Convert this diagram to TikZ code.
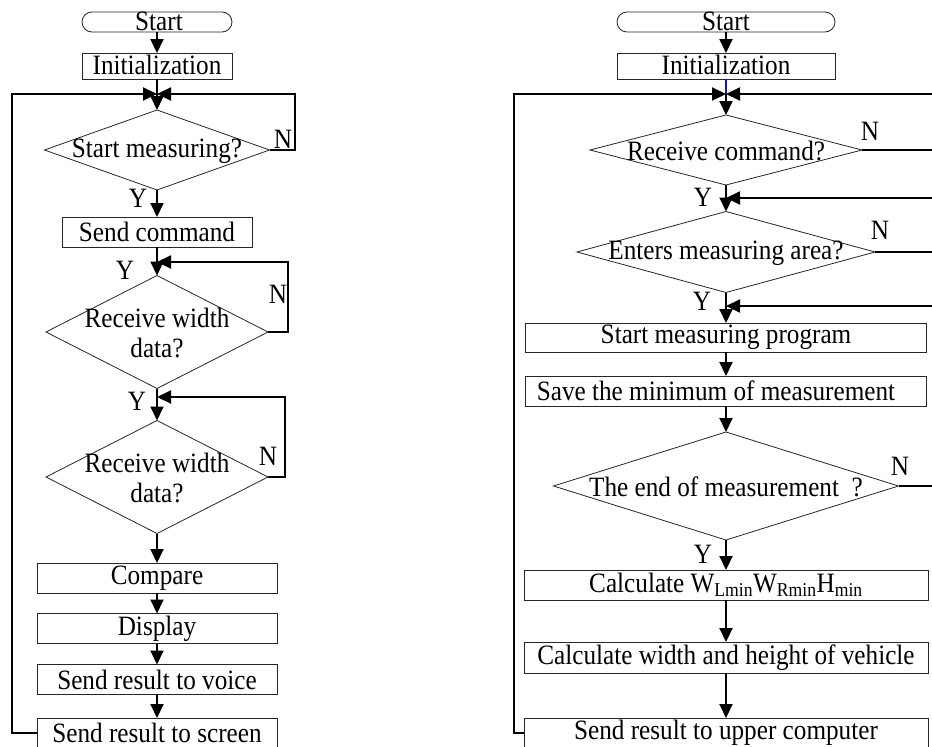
\documentclass[tikz,border=0pt]{standalone}
\usepackage{fontspec}
\setmainfont{Liberation Serif}[FakeStretch=0.9]
\usetikzlibrary{shapes.geometric,arrows.meta}
\definecolor{lineblue}{RGB}{20,20,190}

\begin{document}
\begin{tikzpicture}[x=1pt,y=-1pt,
  every node/.style={font=\fontsize{28}{30}\selectfont,inner sep=0pt,outer sep=0pt},
  box/.style={draw=black!85,line width=0.8pt,rectangle,minimum height=30pt},
  term/.style={draw=black!85,line width=0.8pt,rectangle,rounded corners=10pt,minimum height=20pt},
  dia/.style={draw=black!85,line width=0.8pt,diamond},
  line/.style={line width=2pt},
  flow/.style={line width=2pt,-{Triangle[length=14pt,width=13pt]}}]
\useasboundingbox (0,0) rectangle (932,747);

% left chart
\node[term,minimum width=150pt] (ls) at (157,22) {};
\node (lst) at (159,21) {Start};
\node[box,minimum width=150pt,minimum height=26pt] (li) at (157,66) {};
\node (lit) at (157,65) {Initialization};
\coordinate (lm1) at (157,94);
\node[dia,minimum width=225pt,minimum height=80pt] (ld1) at (157,150) {};
\node (ld1t) at (157,151) {Start measuring?};
\node[box,minimum width=190pt] (lsc) at (157,232) {Send command};
\coordinate (lm2) at (157,262);
\node[dia,minimum width=222pt,minimum height=113pt] (ld2) at (157,332) {};
\node[align=center] (ld2t) at (157,333) {Receive width\\data?};
\coordinate (lm3) at (157,397);
\node[dia,minimum width=222pt,minimum height=113pt] (ld3) at (157,477) {};
\node[align=center] (ld3t) at (157,478) {Receive width\\data?};
\node[box,minimum width=240pt] (lcp) at (157,578) {Compare};
\node[box,minimum width=240pt] (ldp) at (157,628.5) {Display};
\node[box,minimum width=240pt] (lvo) at (157,679.5) {Send result to voice};
\node[box,minimum width=240pt] (lsr) at (157,733) {Send result to screen};

\node (ly1) at (138,198) {Y};
\node (lyy) at (125,270) {Y};
\node (ly2) at (137,401) {Y};
\node (ln1) at (283,139) {N};
\node (ln2) at (278,294) {N};
\node (ln3) at (268,456) {N};

\draw[flow] (ls) -- (li);
\draw[line] (li) -- (lm1);
\draw[flow] (lm1) -- (ld1);
\draw[flow] (ld1) -- (lsc);
\draw[line] (lsc) -- (lm2);
\draw[flow] (lm2) -- (ld2);
\draw[line] (ld2) -- (lm3);
\draw[flow] (lm3) -- (ld3);
\draw[flow] (ld3) -- (lcp);
\draw[flow] (lcp) -- (ldp);
\draw[flow] (ldp) -- (lvo);
\draw[flow] (lvo) -- (lsr);
% N loops
\draw[flow] (ld1.east) -- ++(25,0) |- (lm1);
\draw[flow] (ld2.east) -- ++(20,0) |- (lm2);
\draw[flow] (ld3.east) -- ++(17,0) |- (lm3);
\draw[flow] (lsr.west) -- ++(-25,0) |- (lm1);

% right chart
\node[term,minimum width=218pt] (rs) at (726,22) {};
\node (rst) at (726,21) {Start};
\node[box,minimum width=218pt,minimum height=26pt] (ri) at (726,66) {};
\node (rit) at (726,65) {Initialization};
\coordinate (rm1) at (726,94);
\node[dia,minimum width=272pt,minimum height=70pt] (rd1) at (726,150) {};
\node (rd1t) at (726,151) {Receive command?};
\coordinate (rm2) at (726,198);
\node[dia,minimum width=298pt,minimum height=81pt] (rd2) at (726,252) {};
\node (rd2t) at (726,253) {Enters measuring area?};
\coordinate (rm3) at (726,306);
\node[box,minimum width=401pt,minimum height=29pt] (rp) at (726,337.5) {Start measuring program};
\node[box,minimum width=401pt] (rsv) at (726,391) {};
\node (rsvt) at (716,391) {Save the minimum of measurement};
\node[dia,minimum width=345pt,minimum height=108pt] (rd3) at (726,486) {};
\node (rd3t) at (726,487) {The end of measurement\ \ ?};
\node[box,minimum width=404pt] (rc) at (726,585) {Calculate W\textsubscript{Lmin}W\textsubscript{Rmin}H\textsubscript{min}};
\node[box,minimum width=404pt,minimum height=31pt] (rcw) at (726,657.5) {Calculate width and height of vehicle};
\node[box,minimum width=404pt] (rsu) at (726,733) {Send result to upper computer};

\node (ry1) at (703,197) {Y};
\node (ry2) at (702,301) {Y};
\node (ry3) at (703,554) {Y};
\node (rn1) at (870,131) {N};
\node (rn2) at (880,230) {N};
\node (rn3) at (900,466) {N};

\coordinate (rx) at (950,0);
\draw[flow] (rs) -- (ri);
\draw[line,lineblue] (ri) -- (rm1);
\draw[flow] (rm1) -- (rd1);
\draw[line] (rd1) -- (rm2);
\draw[flow] (rm2) -- (rd2);
\draw[line] (rd2) -- (rm3);
\draw[flow] (rm3) -- (rp);
\draw[flow] (rp) -- (rsv);
\draw[flow] (rsv) -- (rd3);
\draw[flow] (rd3) -- (rc);
\draw[flow] (rc) -- (rcw);
\draw[flow] (rcw) -- (rsu);
% N loops run out past the right edge
\draw[flow] (rd1.east) -- (rd1.east -| rx) |- (rm1);
\draw[flow] (rd2.east) -- (rd2.east -| rx) |- (rm2);
\draw[flow] (rd3.east) -- (rd3.east -| rx) |- (rm3);
\draw[flow] (rsu.west) -- ++(-10,0) |- (rm1);
\end{tikzpicture}
\end{document}
